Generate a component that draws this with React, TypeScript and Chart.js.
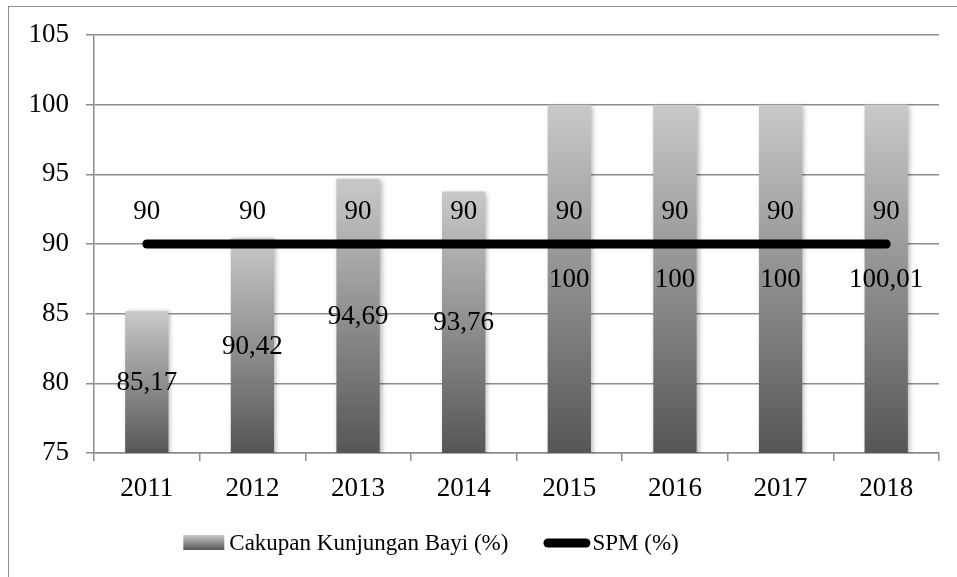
import React, { useEffect, useRef } from "react";
import { Chart, registerables } from "chart.js";

Chart.register(...registerables);

const categories = ["2011", "2012", "2013", "2014", "2015", "2016", "2017", "2018"];
const coverageValues = [85.17, 90.42, 94.69, 93.76, 100, 100, 100, 100.01];
const spmValues = [90, 90, 90, 90, 90, 90, 90, 90];
const yMin = 75;
const yMax = 105;
const yStep = 5;
const seriesNames = ["Cakupan Kunjungan Bayi (%)", "SPM (%)"];

const FONT = "'Liberation Serif', 'Times New Roman', serif";
const GRID = "#8c8c8c";
const fmt = (v: number) => String(v).replace(".", ",");

function barGradient(ctx: CanvasRenderingContext2D, top: number, bottom: number) {
  const g = ctx.createLinearGradient(0, top, 0, bottom);
  g.addColorStop(0, "#c9c9c9");
  g.addColorStop(1, "#565656");
  return g;
}

const shadowPlugin = {
  id: "barShadow",
  beforeDatasetDraw(chart: any, args: any) {
    if (args.index !== 0) return;
    const ctx = chart.ctx;
    ctx.save();
    ctx.shadowColor = "rgba(0,0,0,0.3)";
    ctx.shadowBlur = 5;
    ctx.shadowOffsetX = 2;
    ctx.shadowOffsetY = 1;
  },
  afterDatasetDraw(chart: any, args: any) {
    if (args.index !== 0) return;
    chart.ctx.restore();
  },
};

const labelPlugin = {
  id: "valueLabels",
  afterDatasetsDraw(chart: any) {
    const ctx = chart.ctx;
    const ys = chart.scales.y;
    const xs = chart.scales.x;
    ctx.save();
    ctx.fillStyle = "#000";
    ctx.font = `27px ${FONT}`;
    ctx.textAlign = "center";
    ctx.textBaseline = "middle";
    coverageValues.forEach((v, i) => {
      const x = xs.getPixelForValue(i);
      const top = ys.getPixelForValue(Math.min(v, yMax));
      const base = ys.getPixelForValue(yMin);
      ctx.fillText(fmt(v), x, (top + base) / 2 + 1);
    });
    spmValues.forEach((v, i) => {
      const x = xs.getPixelForValue(i);
      const y = ys.getPixelForValue(v);
      ctx.fillText(fmt(v), x, y - 32);
    });
    ctx.restore();
  },
};

const legendPlugin = {
  id: "customLegend",
  afterDraw(chart: any) {
    const ctx = chart.ctx;
    ctx.save();
    ctx.font = `23px ${FONT}`;
    ctx.textBaseline = "middle";
    ctx.textAlign = "left";
    const w1 = ctx.measureText(seriesNames[0]).width;
    const w2 = ctx.measureText(seriesNames[1]).width;
    const total = 41 + 5 + w1 + 35 + 47 + 2 + w2;
    const cy = 543;
    let x = 431 - total / 2;
    ctx.fillStyle = barGradient(ctx, cy - 8, cy + 7);
    ctx.fillRect(x, cy - 8, 41, 15);
    x += 46;
    ctx.fillStyle = "#000";
    ctx.fillText(seriesNames[0], x, cy + 1);
    x += w1 + 35;
    ctx.strokeStyle = "#000";
    ctx.lineWidth = 9;
    ctx.lineCap = "round";
    ctx.beginPath();
    ctx.moveTo(x + 4.5, cy);
    ctx.lineTo(x + 47 - 4.5, cy);
    ctx.stroke();
    x += 49;
    ctx.fillText(seriesNames[1], x, cy + 1);
    ctx.restore();
  },
};

export default function App() {
  const ref = useRef<HTMLCanvasElement | null>(null);

  useEffect(() => {
    if (!ref.current) return;
    const chart = new Chart(ref.current, {
      type: "bar",
      data: {
        labels: categories,
        datasets: [
          {
            type: "bar",
            label: seriesNames[0],
            data: coverageValues,
            order: 1,
            categoryPercentage: 1,
            barPercentage: 0.41,
            borderWidth: 0,
            backgroundColor: (c: any) => {
              const ch = c.chart;
              if (!ch.chartArea || c.raw === undefined) return "#999";
              const ys = ch.scales.y;
              return barGradient(ch.ctx, ys.getPixelForValue(c.raw), ys.getPixelForValue(yMin));
            },
          },
          {
            type: "line",
            label: seriesNames[1],
            data: spmValues,
            order: 0,
            borderColor: "#000",
            borderWidth: 9,
            borderCapStyle: "round",
            pointRadius: 0,
            pointHoverRadius: 0,
            tension: 0,
            fill: false,
          },
        ],
      },
      options: {
        responsive: false,
        animation: false,
        events: [],
        layout: { padding: { left: 0, right: 18, top: 35, bottom: 80 } },
        plugins: { legend: { display: false }, tooltip: { enabled: false } },
        scales: {
          x: {
            afterFit: (s: any) => {
              s.height = 44;
            },
            grid: {
              display: true,
              drawOnChartArea: false,
              drawTicks: true,
              tickLength: 8,
              offset: true,
              color: GRID,
              lineWidth: 1.5,
            },
            border: { display: true, color: GRID, width: 1.5 },
            ticks: { color: "#000", font: { family: FONT, size: 27 }, padding: 12 },
          },
          y: {
            min: yMin,
            max: yMax,
            afterFit: (s: any) => {
              s.width = 94;
            },
            grid: { color: GRID, lineWidth: 1.5, drawTicks: true, tickLength: 8 },
            border: { display: true, color: GRID, width: 1.5 },
            ticks: {
              stepSize: yStep,
              color: "#000",
              font: { family: FONT, size: 27 },
              padding: 17,
            },
          },
        },
      },
      plugins: [shadowPlugin, labelPlugin, legendPlugin],
    });
    return () => chart.destroy();
  }, []);

  return (
    <div style={{ position: "fixed", left: 0, top: 0, width: 957, height: 577, overflow: "hidden", background: "#fff" }}>
      <div
        style={{
          position: "absolute",
          left: 8,
          top: 6,
          width: 2000,
          height: 2000,
          borderLeft: "1.5px solid #8c8c8c",
          borderTop: "1.5px solid #8c8c8c",
        }}
      />
      <canvas ref={ref} width={957} height={577} style={{ position: "absolute", left: 0, top: 0, width: 957, height: 577 }} />
    </div>
  );
}
